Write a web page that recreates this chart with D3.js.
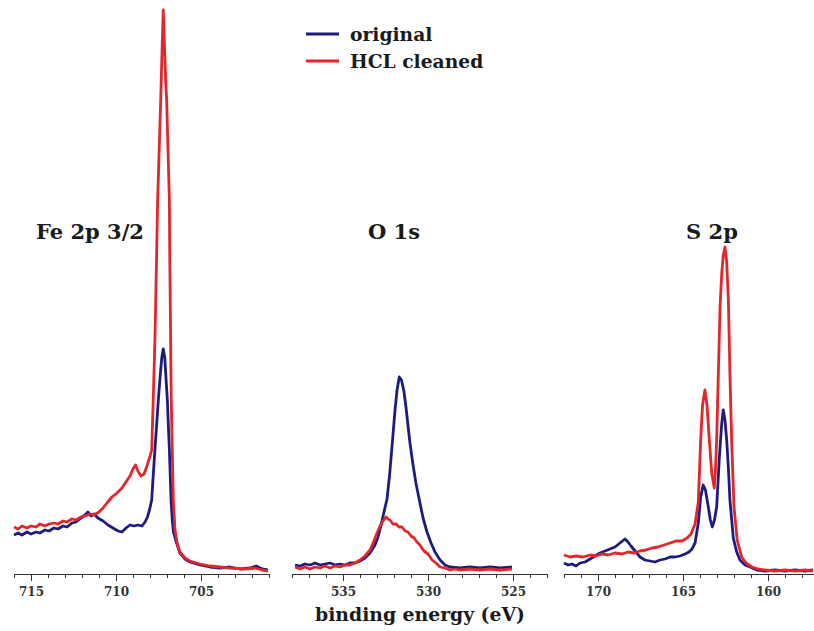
<!DOCTYPE html>
<html>
<head>
<meta charset="utf-8">
<script src="https://cdn.jsdelivr.net/npm/d3@7/dist/d3.min.js"></script>
<style>
  html, body { margin: 0; padding: 0; background: #fff; }
  svg { display: block; }
  .lbl { font-family: "DejaVu Serif", serif; font-weight: bold; fill: #1a1a1a; }
  .tick text { font-family: "DejaVu Serif", serif; font-weight: bold; fill: #333; }
</style>
</head>
<body>
<svg id="chart" width="814" height="631"></svg>
<script>
// ---- Fe 2p 3/2 region ----
const feOriginalEV = [716.00, 715.76, 715.53, 715.24, 715.00, 714.71, 714.47, 714.18, 713.94, 713.65, 713.41, 713.12, 712.88, 712.59, 712.35, 712.06, 711.82, 711.65, 711.47, 711.29, 711.06, 710.76, 710.47, 710.18, 709.88, 709.65, 709.41, 709.18, 708.94, 708.71, 708.47, 708.29, 708.15, 708.03, 707.90, 707.81, 707.71, 707.61, 707.51, 707.41, 707.31, 707.22, 707.13, 707.06, 706.98, 706.92, 706.86, 706.81, 706.76, 706.69, 706.62, 706.49, 706.24, 705.94, 705.65, 705.06, 704.47, 703.88, 703.29, 702.71, 702.12, 701.76, 701.41, 701.06];
const feOriginalCounts = [39, 41, 39, 42, 40, 42, 41, 44, 43, 46, 45, 48, 47, 51, 52, 56, 59, 62, 58, 60, 56, 53, 49, 46, 43, 42, 46, 49, 48, 49, 48, 52, 57, 64, 74, 99, 124, 149, 174, 196, 216, 225, 216, 196, 174, 149, 124, 99, 74, 54, 42, 34, 21, 15, 12, 9, 7, 6, 7, 5, 6, 8, 5, 4];
const feCleanedEV = [716.00, 715.76, 715.53, 715.24, 715.00, 714.71, 714.47, 714.18, 713.94, 713.65, 713.41, 713.12, 712.88, 712.59, 712.35, 712.06, 711.82, 711.53, 711.29, 711.00, 710.76, 710.53, 710.24, 709.94, 709.65, 709.41, 709.18, 709.00, 708.85, 708.71, 708.53, 708.35, 708.18, 708.03, 707.90, 707.81, 707.71, 707.65, 707.55, 707.46, 707.37, 707.29, 707.22, 707.15, 707.08, 707.02, 706.94, 706.86, 706.84, 706.81, 706.75, 706.69, 706.63, 706.53, 706.38, 706.24, 705.94, 705.65, 705.06, 704.47, 703.88, 703.29, 702.41, 701.82, 701.41, 701.06];
const feCleanedCounts = [47, 45, 48, 46, 48, 47, 50, 48, 50, 51, 50, 53, 52, 55, 54, 57, 58, 60, 59, 62, 66, 71, 77, 81, 86, 92, 98, 105, 109, 103, 98, 100, 108, 116, 124, 174, 234, 284, 374, 424, 474, 524, 564, 529, 494, 474, 424, 374, 324, 274, 174, 124, 74, 44, 29, 22, 16, 13, 10, 8, 7, 6, 5, 6, 4, 3];

// ---- O 1s region ----
const oOriginalEV = [537.82, 537.53, 537.24, 536.94, 536.65, 536.35, 536.06, 535.76, 535.47, 535.18, 534.88, 534.59, 534.29, 534.00, 533.71, 533.41, 533.12, 532.94, 532.76, 532.59, 532.41, 532.26, 532.10, 531.94, 531.82, 531.69, 531.56, 531.41, 531.29, 531.18, 531.06, 530.88, 530.71, 530.51, 530.29, 530.06, 529.82, 529.59, 529.29, 529.00, 528.71, 528.12, 527.53, 526.94, 526.35, 525.76, 525.06];
const oOriginalCounts = [9, 8, 10, 9, 11, 9, 10, 11, 9, 10, 9, 11, 11, 13, 16, 21, 29, 37, 49, 62, 75, 99, 131, 164, 184, 197, 194, 182, 166, 149, 131, 109, 91, 74, 56, 42, 31, 22, 14, 9, 7, 6, 7, 6, 7, 6, 7];
const oCleanedEV = [537.82, 537.53, 537.24, 536.94, 536.65, 536.35, 536.06, 535.76, 535.47, 535.18, 534.88, 534.59, 534.29, 534.00, 533.71, 533.41, 533.18, 533.00, 532.82, 532.65, 532.47, 532.35, 532.24, 532.06, 531.88, 531.71, 531.53, 531.35, 531.18, 531.00, 530.82, 530.65, 530.47, 530.24, 530.00, 529.76, 529.53, 529.29, 529.00, 528.71, 528.41, 528.12, 527.53, 526.94, 526.35, 525.76, 525.06];
const oCleanedCounts = [7, 5, 7, 5, 7, 6, 8, 6, 8, 7, 9, 9, 11, 14, 18, 24, 33, 41, 48, 53, 57, 55, 54, 50, 50, 47, 47, 43, 42, 38, 36, 32, 29, 23, 20, 14, 11, 7, 6, 4, 5, 4, 5, 4, 5, 4, 5];

// ---- S 2p region ----
const sOriginalEV = [172.00, 171.76, 171.53, 171.29, 171.06, 170.76, 170.47, 170.18, 169.88, 169.59, 169.29, 169.00, 168.71, 168.41, 168.24, 168.06, 167.82, 167.53, 167.24, 166.94, 166.65, 166.35, 166.06, 165.76, 165.47, 165.18, 164.88, 164.65, 164.47, 164.29, 164.10, 163.96, 163.81, 163.68, 163.51, 163.39, 163.28, 163.15, 163.02, 162.86, 162.72, 162.63, 162.53, 162.43, 162.33, 162.24, 162.04, 161.84, 161.65, 161.35, 161.06, 160.65, 160.18, 159.59, 159.00, 158.41, 157.82, 157.35];
const sOriginalCounts = [11, 9, 10, 8, 11, 12, 15, 18, 21, 23, 25, 27, 31, 35, 32, 28, 23, 17, 14, 13, 12, 14, 15, 17, 17, 18, 20, 22, 25, 31, 51, 77, 89, 84, 67, 54, 47, 54, 67, 117, 151, 164, 154, 134, 106, 74, 36, 22, 14, 9, 7, 4, 3, 4, 3, 4, 3, 4];
const sCleanedEV = [172.00, 171.65, 171.29, 170.88, 170.47, 170.12, 169.76, 169.41, 169.00, 168.59, 168.24, 167.88, 167.53, 167.18, 166.82, 166.47, 166.12, 165.76, 165.41, 165.06, 164.76, 164.53, 164.29, 164.10, 163.96, 163.85, 163.71, 163.59, 163.45, 163.31, 163.16, 163.09, 163.02, 162.92, 162.82, 162.72, 162.63, 162.53, 162.43, 162.33, 162.24, 162.14, 162.00, 161.81, 161.55, 161.29, 160.94, 160.59, 160.18, 159.59, 159.00, 158.41, 157.82, 157.35];
const sCleanedCounts = [19, 17, 18, 17, 19, 18, 20, 19, 21, 20, 22, 21, 23, 24, 26, 27, 29, 31, 33, 33, 36, 40, 50, 72, 134, 169, 184, 169, 134, 101, 86, 104, 134, 201, 267, 301, 319, 327, 312, 274, 201, 134, 67, 34, 17, 11, 7, 5, 4, 3, 4, 3, 4, 3];

// Tick labels shown under each energy window
const feTickLabels = [715, 710, 705];
const oTickLabels = [535, 530, 525];
const sTickLabels = [170, 165, 160];

const seriesNames = ["original", "HCL cleaned"];
const seriesColors = ["#1d1b7e", "#e2262b"];
const regionNames = ["Fe 2p 3/2", "O 1s", "S 2p"];

const svg = d3.select("#chart");
const axisY = 574;

const y = d3.scaleLinear().domain([0, 574]).range([axisY, 0]);

const panels = [
  { name: regionNames[0], domain: [716, 701], range: [14, 269], ticks: feTickLabels,
    orig: [feOriginalEV, feOriginalCounts], clean: [feCleanedEV, feCleanedCounts], labelX: 36, labelAnchor: "start" },
  { name: regionNames[1], domain: [538, 523], range: [292, 547], ticks: oTickLabels,
    orig: [oOriginalEV, oOriginalCounts], clean: [oCleanedEV, oCleanedCounts], labelX: 394, labelAnchor: "middle" },
  { name: regionNames[2], domain: [172, 157], range: [564, 819], ticks: sTickLabels,
    orig: [sOriginalEV, sOriginalCounts], clean: [sCleanedEV, sCleanedCounts], labelX: 712, labelAnchor: "middle" }
];

panels.forEach(p => {
  const x = d3.scaleLinear().domain(p.domain).range(p.range);
  const g = svg.append("g");

  // minor ticks every 1 eV
  const minor = d3.range(Math.ceil(p.domain[1]), Math.floor(p.domain[0]) + 1).filter(v => v % 5 !== 0);
  g.append("g").attr("transform", `translate(0,${axisY})`)
    .call(d3.axisBottom(x).tickValues(minor).tickSize(4).tickFormat(""))
    .call(a => a.select(".domain").remove())
    .call(a => a.selectAll("line").attr("stroke", "#333"));

  // major ticks with labels
  g.append("g").attr("transform", `translate(0,${axisY})`)
    .call(d3.axisBottom(x).tickValues(p.ticks).tickSize(7).tickSizeOuter(0).tickPadding(6))
    .call(a => a.select(".domain").attr("stroke", "#333").attr("d", `M${p.range[0]},0.5H${p.range[1]}`))
    .call(a => a.selectAll("line").attr("stroke", "#333"))
    .call(a => a.selectAll("text").attr("font-size", 12));

  const line = d3.line().x(d => x(d[0])).y(d => y(d[1]));
  const plot = (pair, color) => {
    const pts = pair[0].map((e, i) => [e, pair[1][i]]);
    g.append("path").datum(pts)
      .attr("fill", "none").attr("stroke", color)
      .attr("stroke-width", 2.8).attr("stroke-linejoin", "round")
      .attr("d", line);
  };
  plot(p.orig, seriesColors[0]);
  plot(p.clean, seriesColors[1]);

  g.append("text").attr("class", "lbl")
    .attr("x", p.labelX).attr("y", 239)
    .attr("text-anchor", p.labelAnchor)
    .attr("font-size", 21)
    .text(p.name);
});

// axis title
svg.append("text").attr("class", "lbl")
  .attr("x", 420).attr("y", 621)
  .attr("text-anchor", "middle")
  .attr("font-size", 18.8)
  .text("binding energy (eV)");

// legend
const legend = svg.append("g");
seriesNames.forEach((name, i) => {
  const ly = 34 + i * 27;
  legend.append("line")
    .attr("x1", 306).attr("x2", 339).attr("y1", ly).attr("y2", ly)
    .attr("stroke", seriesColors[i]).attr("stroke-width", 3);
  legend.append("text").attr("class", "lbl")
    .attr("x", 350).attr("y", ly + 7)
    .attr("font-size", 18.7)
    .text(name);
});
</script>
</body>
</html>
